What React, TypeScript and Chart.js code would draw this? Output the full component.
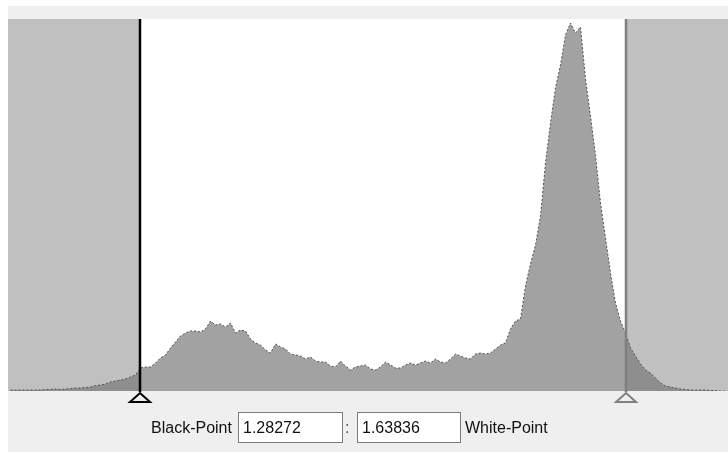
import React, { useEffect, useRef } from "react";
import { Chart, registerables } from "chart.js";

Chart.register(...registerables);

// Value range of the histogram axis
const X_MIN = 1.18613;
const X_MAX = 1.713;
const BLACK_POINT = 1.28272;
const WHITE_POINT = 1.63836;
const BLACK_LABEL = "1.28272";
const WHITE_LABEL = "1.63836";
const Y_MAX = 372;

// Histogram counts (144 equal bins spanning X_MIN..X_MAX)
const COUNTS: number[] = [
  1, 1, 1, 1, 1, 1, 1, 1.5, 1.5, 2,
  1.5, 2, 2.5, 3, 3, 3.5, 4, 5.5, 6, 7,
  9, 10, 11, 12, 14, 16, 23, 24, 24, 28,
  33, 36, 43, 49, 55, 58, 60, 60, 59, 62,
  70, 66, 67, 64, 68, 58, 61, 60, 52, 48,
  46, 41, 38, 47, 44, 42, 37, 36, 35, 32,
  34, 30, 29, 29, 25, 24, 30, 25, 21, 24,
  25, 26, 22, 21, 24, 29, 26, 23, 23, 26,
  28, 26, 28, 30, 28, 32, 29, 28, 32, 37,
  35, 33, 32, 37, 38, 37, 38, 42, 46, 48,
  62, 70, 72, 105, 127, 146, 175, 228, 268, 303,
  326, 356, 368, 358, 364, 312, 275, 236, 188, 153,
  118, 88, 70, 58, 43, 35, 27, 21, 18, 13,
  8, 5, 4, 3, 2, 1.5, 1, 1, 1, 1,
  0.5, 0.5, 0, 0,
];

const BIN_W = (X_MAX - X_MIN) / COUNTS.length;
const BIN_CENTERS = COUNTS.map((_, i) => X_MIN + (i + 0.5) * BIN_W);

const FONT = '"Liberation Sans", Arial, sans-serif';

const markersPlugin = {
  id: "markers",
  beforeDraw(chart: any) {
    const { ctx, chartArea } = chart;
    ctx.save();
    ctx.fillStyle = "#ffffff";
    ctx.fillRect(0, 0, chart.width, chart.height);
    ctx.fillStyle = "#efefef";
    ctx.fillRect(8, 6, chart.width - 8, 446);
    ctx.fillStyle = "#ffffff";
    ctx.fillRect(chartArea.left, chartArea.top, chartArea.right - chartArea.left, chartArea.bottom - chartArea.top);
    ctx.restore();
  },
  beforeDatasetsDraw(chart: any) {
    const { ctx, chartArea, scales } = chart;
    const bx = scales.x.getPixelForValue(BLACK_POINT);
    const wx = scales.x.getPixelForValue(WHITE_POINT);
    ctx.save();
    ctx.fillStyle = "#c0c0c0";
    ctx.fillRect(chartArea.left, chartArea.top, bx - chartArea.left, chartArea.bottom - chartArea.top);
    ctx.fillRect(wx, chartArea.top, chartArea.right - wx, chartArea.bottom - chartArea.top);
    ctx.restore();
  },
  afterDatasetsDraw(chart: any) {
    const { ctx, chartArea, scales } = chart;
    const bx = scales.x.getPixelForValue(BLACK_POINT);
    const wx = scales.x.getPixelForValue(WHITE_POINT);
    const drawMarker = (x: number, color: string) => {
      ctx.beginPath();
      ctx.strokeStyle = color;
      ctx.lineWidth = 2.5;
      ctx.moveTo(x, chartArea.top);
      ctx.lineTo(x, chartArea.bottom + 1);
      ctx.stroke();
      ctx.beginPath();
      ctx.lineWidth = 2;
      ctx.moveTo(x, chartArea.bottom + 2);
      ctx.lineTo(x + 10, chartArea.bottom + 11);
      ctx.lineTo(x - 10, chartArea.bottom + 11);
      ctx.closePath();
      ctx.fillStyle = "#efefef";
      ctx.fill();
      ctx.stroke();
    };
    ctx.save();
    drawMarker(bx, "#000000");
    drawMarker(wx, "#808080");
    ctx.restore();
  },
};

export default function App() {
  const canvasRef = useRef<HTMLCanvasElement | null>(null);

  useEffect(() => {
    if (!canvasRef.current) return;
    const points = COUNTS.map((c, i) => ({ x: BIN_CENTERS[i], y: c }));
    const chart = new Chart(canvasRef.current, {
      type: "line",
      data: {
        datasets: [
          {
            label: "histogram",
            data: points,
            borderColor: "#505050",
            borderWidth: 1,
            borderDash: [2, 2],
            pointRadius: 0,
            tension: 0,
            fill: "origin",
            backgroundColor: (ctx: any) => {
              const c = ctx.chart;
              const area = c.chartArea;
              if (!area) return "#a2a2a2";
              const xs = c.scales.x;
              const g = c.ctx.createLinearGradient(area.left, 0, area.right, 0);
              const w = area.right - area.left;
              const fb = Math.min(1, Math.max(0, (xs.getPixelForValue(BLACK_POINT) - area.left) / w));
              const fw = Math.min(1, Math.max(0, (xs.getPixelForValue(WHITE_POINT) - area.left) / w));
              g.addColorStop(0, "#8e8e8e");
              g.addColorStop(fb, "#8e8e8e");
              g.addColorStop(fb, "#a2a2a2");
              g.addColorStop(fw, "#a2a2a2");
              g.addColorStop(fw, "#8e8e8e");
              g.addColorStop(1, "#8e8e8e");
              return g;
            },
          } as any,
        ],
      },
      options: {
        responsive: false,
        animation: false,
        devicePixelRatio: 1,
        layout: { padding: { left: 8, top: 19, right: 0, bottom: 63 } },
        plugins: { legend: { display: false }, tooltip: { enabled: false } },
        scales: {
          x: { type: "linear", min: X_MIN, max: X_MAX, display: false, offset: false },
          y: { min: 0, max: Y_MAX, display: false },
        },
      },
      plugins: [markersPlugin],
    });
    return () => chart.destroy();
  }, []);

  const textStyle: React.CSSProperties = {
    position: "absolute",
    fontFamily: FONT,
    fontSize: 16,
    lineHeight: "18px",
    color: "#111",
    whiteSpace: "nowrap",
  };
  const boxStyle: React.CSSProperties = {
    position: "absolute",
    top: 412,
    height: 31,
    boxSizing: "border-box",
    border: "1px solid #7a7a7a",
    background: "#ffffff",
    fontFamily: FONT,
    fontSize: 16,
    lineHeight: "29px",
    paddingLeft: 4,
    color: "#111",
  };

  return (
    <div style={{ position: "fixed", left: 0, top: 0, width: 728, height: 454, overflow: "hidden", background: "#fff" }}>
      <canvas ref={canvasRef} width={728} height={454} style={{ position: "absolute", left: 0, top: 0 }} />
      <div style={{ ...textStyle, left: 151, top: 419 }}>Black-Point</div>
      <div style={{ ...boxStyle, left: 238, width: 105 }}>{BLACK_LABEL}</div>
      <div style={{ ...textStyle, left: 345, top: 419, color: "#555" }}>:</div>
      <div style={{ ...boxStyle, left: 357, width: 104 }}>{WHITE_LABEL}</div>
      <div style={{ ...textStyle, left: 465, top: 419 }}>White-Point</div>
    </div>
  );
}
